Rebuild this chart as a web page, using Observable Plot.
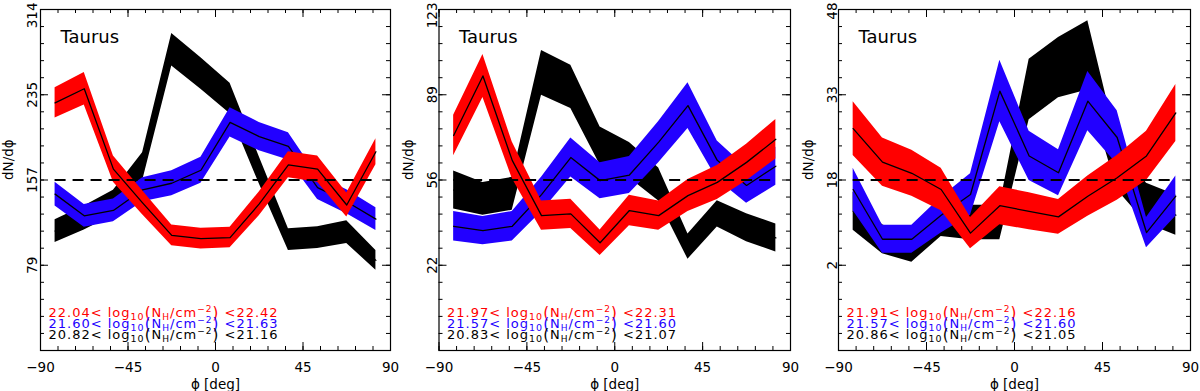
<!DOCTYPE html>
<html><head><meta charset="utf-8">
<script src="https://cdn.jsdelivr.net/npm/d3@7"></script>
<script src="https://cdn.jsdelivr.net/npm/@observablehq/plot@0.6"></script>
<style>
html,body{margin:0;padding:0;background:#fff;}
#row{display:flex;width:1200px;height:391px;overflow:hidden;}
#row svg{display:block;flex:none;}
</style></head><body><div id="row"></div>
<script>
// ---- data ----
const phi = [-82.5, -67.5, -52.5, -37.5, -22.5, -7.5, 7.5, 22.5, 37.5, 52.5, 67.5, 82.5];
const xTicks = [-90, -45, 0, 45, 90];
const xTickLabels = ["\u221290", "\u221245", "0", "45", "90"];

// panel 1
const p1YDomain = [0, 314];
const p1YTicks = [78.5, 157, 235.5, 314];
const p1YTickLabels = ["79", "157", "235", "314"];
const p1Ref = 157;
const p1Red = [228, 241, 167, 136, 106, 103, 104, 135, 171, 167, 134, 183];
const p1RedErr = [14, 15, 12, 11, 9.5, 9.5, 9.5, 11, 12, 12, 11, 12];
const p1Blue = [144, 124, 129, 148, 154, 166, 210, 197, 188, 150, 137, 121];
const p1BlueErr = [11, 10.5, 10.5, 11, 11.5, 12, 13.5, 13, 12.5, 11, 11, 10.5];
const p1Black = [110, 122, 136, 169, 277, 255, 232, 166, 102, 104, 109, 83];
const p1BlackErr = [10.5, 11, 11.5, 13, 15, 14.5, 14, 12.5, 10, 10, 10.5, 9];
const p1Lo = ["22.04", "21.60", "20.82"];
const p1Hi = ["22.42", "21.63", "21.16"];

// panel 2
const p2YDomain = [-11.5, 123];
const p2YTicks = [22.125, 55.75, 89.375, 123];
const p2YTickLabels = ["22", "56", "89", "123"];
const p2Ref = 55.75;
const p2Red = [73.3, 96.8, 63.5, 41.7, 42.4, 31.0, 43.7, 41.7, 49.6, 54.8, 62.7, 71.8];
const p2RedErr = [8, 8.5, 7.2, 5.8, 5.8, 5, 6, 5.8, 6.3, 6.7, 7.2, 7.8];
const p2Blue = [37.5, 35.8, 37.5, 50, 64.6, 55.5, 57.7, 70.7, 85.1, 63.5, 53.6, 61.2];
const p2BlueErr = [5.8, 5.6, 5.8, 6.8, 7.7, 7.1, 7.3, 8.1, 9, 7.6, 7, 7.5];
const p2Black = [51.8, 48.3, 50.3, 98, 92.5, 69.2, 63.5, 54, 29.5, 42.4, 36.9, 32.9];
const p2BlackErr = [7.5, 6.5, 6.5, 8.8, 8.5, 7.5, 7, 6.5, 5, 5.2, 5.5, 5.5];
const p2Lo = ["21.97", "21.57", "20.83"];
const p2Hi = ["22.31", "21.60", "21.07"];

// panel 3
const p3YDomain = [-13, 48];
const p3YTicks = [2.25, 17.5, 32.75, 48];
const p3YTickLabels = ["2", "18", "33", "48"];
const p3Ref = 17.5;
const p3Red = [26.7, 20.7, 18.7, 15.8, 8.0, 12.9, 11.9, 10.9, 14.6, 17.9, 21.8, 29.5];
const p3RedErr = [4.8, 4.3, 4.1, 3.8, 2.8, 3.4, 3.3, 3.1, 3.6, 4, 4.4, 5.1];
const p3Blue = [15.8, 6.9, 6.9, 11.2, 14.9, 33.4, 21.8, 18.8, 31.6, 25.1, 8.1, 14.6];
const p3BlueErr = [3.8, 2.5, 2.5, 3.2, 3.7, 5.5, 4.4, 4.1, 5.3, 4.8, 2.7, 3.6];
const p3Black = [11.9, 6.9, 5.0, 10.5, 9.9, 9.9, 33.7, 37.6, 39.8, 20, 13.3, 11.2];
const p3BlackErr = [3.4, 2.6, 2.2, 3.1, 3.1, 3.1, 5.4, 5.4, 6.2, 4.3, 3.6, 3.6];
const p3Lo = ["21.91", "21.57", "20.86"];
const p3Hi = ["22.16", "21.60", "21.05"];

const regionName = "Taurus";
const yTitle = "dN/d\u03D5";
const xTitle = "\u03D5 [deg]";
const RED = "#ff0000", BLUE = "#2200ff", BLACK = "#000000";
const legendColors = [RED, BLUE, BLACK];

// ---- drawing ----
const FONT = "DejaVu Sans";
function panel(cfg) {
  const W = 400, H = 391, mt = 9, mr = 10, mb = 41, ml = cfg.ml;
  const innerW = W - ml - mr, innerH = H - mt - mb;
  const rows = (v, e) => phi.map((x, i) => ({x, y: v[i], lo: v[i] - e[i], hi: v[i] + e[i]}));
  const step = cfg.yTicks[1] - cfg.yTicks[0];
  const yMinor = d3.range(cfg.yDomain[0], cfg.yDomain[1] + 1e-6, step / 5);
  const xMinor = d3.range(-90, 90.001, 9);
  const marks = [];
  for (const [v, e, c] of [[cfg.black, cfg.blackErr, BLACK], [cfg.blue, cfg.blueErr, BLUE], [cfg.red, cfg.redErr, RED]]) {
    const r = rows(v, e);
    marks.push(Plot.areaY(r, {x: "x", y1: "lo", y2: "hi", fill: c}));
    marks.push(Plot.lineY(r, {x: "x", y: "y", stroke: "#000", strokeWidth: 1.3}));
  }
  marks.push(Plot.ruleY([{y: cfg.ref, x1: phi[0], x2: phi[phi.length - 1]}],
    {y: "y", x1: "x1", x2: "x2", stroke: "#000", strokeWidth: 1.8, strokeDasharray: "11,7"}));
  // inward ticks on all sides
  const MAJ = 8, MIN = 4;
  marks.push(Plot.tickX(xMinor, {x: d => d, insetTop: innerH - MIN}));
  marks.push(Plot.tickX(xTicks, {x: d => d, insetTop: innerH - MAJ}));
  marks.push(Plot.tickX(xMinor, {x: d => d, insetBottom: innerH - MIN}));
  marks.push(Plot.tickX(xTicks, {x: d => d, insetBottom: innerH - MAJ}));
  marks.push(Plot.tickY(yMinor, {y: d => d, insetRight: innerW - MIN}));
  marks.push(Plot.tickY(cfg.yTicks, {y: d => d, insetRight: innerW - MAJ}));
  marks.push(Plot.tickY(yMinor, {y: d => d, insetLeft: innerW - MIN}));
  marks.push(Plot.tickY(cfg.yTicks, {y: d => d, insetLeft: innerW - MAJ}));
  marks.push(Plot.frame({stroke: "#000", strokeWidth: 1.2}));
  // tick labels
  marks.push(Plot.text(xTicks, {x: d => d, text: (d, i) => xTickLabels[i], frameAnchor: "bottom",
    dy: 17, lineAnchor: "middle", fontSize: 13.5, fill: "#000"}));
  marks.push(Plot.text(cfg.yTicks.slice(0, 3), {y: d => d, text: (d, i) => cfg.yTickLabels[i], frameAnchor: "left",
    dx: 32 - ml, rotate: -90, textAnchor: "middle", lineAnchor: "middle", fontSize: 13.5, fill: "#000"}));
  marks.push(Plot.text(cfg.yTicks.slice(3), {y: d => d, text: () => cfg.yTickLabels[3], frameAnchor: "left",
    dx: 32 - ml, dy: -7, rotate: -90, textAnchor: "end", lineAnchor: "middle", fontSize: 13.5, fill: "#000"}));
  // titles
  marks.push(Plot.text([yTitle], {text: d => d, frameAnchor: "left", dx: 8 - ml, rotate: -90,
    lineAnchor: "middle", fontSize: 13.5, fill: "#000"}));
  marks.push(Plot.text([xTitle], {text: d => d, frameAnchor: "bottom", dy: 34.5,
    lineAnchor: "middle", fontSize: 13.5, fill: "#000"}));
  marks.push(Plot.text([regionName], {text: d => d, frameAnchor: "top-left", dx: 20, dy: 27.5,
    textAnchor: "start", lineAnchor: "middle", fontSize: 18, fill: "#000"}));
  // legend
  cfg.lo.forEach((lo, i) => {
    marks.push(Plot.text([`${lo}< log10(NH/cm\u22122) <${cfg.hi[i]}`], {text: d => d, frameAnchor: "bottom-left",
      dx: 8, dy: -38 + i * 11, textAnchor: "start", lineAnchor: "middle", fontSize: 13, fill: legendColors[i]}));
  });
  const svg = Plot.plot({
    width: W, height: H, marginLeft: ml, marginRight: mr, marginTop: mt, marginBottom: mb,
    x: {domain: [-90, 90], axis: null},
    y: {domain: cfg.yDomain, axis: null},
    style: {fontFamily: FONT, background: "#fff", color: "#000", overflow: "visible"},
    marks
  });
  // rich legend text: subscripts / superscripts
  d3.select(svg).selectAll("text").each(function () {
    const t = this.textContent;
    const m = t.match(/^(.*?)log10\(NH\/cm\u22122\)(.*)$/);
    if (!m) return;
    const el = d3.select(this);
    el.text(null).attr("letter-spacing", 1);
    const add = (s, opt = {}) => {
      const ts = el.append("tspan").text(s);
      if (opt.fs) ts.attr("font-size", opt.fs);
      if (opt.bs) ts.attr("baseline-shift", opt.bs);
    };
    add(m[1]); add("log"); add("10", {fs: 9.5, bs: -3});
    add("(", {fs: 15, bs: -1}); add("N"); add("H", {fs: 9, bs: -3}); add("/cm");
    add("\u22122", {fs: 9, bs: 5}); add(")", {fs: 15, bs: -1}); add(m[2]);
  });
  return svg;
}

const row = document.getElementById("row");
row.append(panel({ml: 40, yDomain: p1YDomain, yTicks: p1YTicks, yTickLabels: p1YTickLabels, ref: p1Ref,
  red: p1Red, redErr: p1RedErr, blue: p1Blue, blueErr: p1BlueErr, black: p1Black, blackErr: p1BlackErr, lo: p1Lo, hi: p1Hi}));
row.append(panel({ml: 38.5, yDomain: p2YDomain, yTicks: p2YTicks, yTickLabels: p2YTickLabels, ref: p2Ref,
  red: p2Red, redErr: p2RedErr, blue: p2Blue, blueErr: p2BlueErr, black: p2Black, blackErr: p2BlackErr, lo: p2Lo, hi: p2Hi}));
row.append(panel({ml: 38, yDomain: p3YDomain, yTicks: p3YTicks, yTickLabels: p3YTickLabels, ref: p3Ref,
  red: p3Red, redErr: p3RedErr, blue: p3Blue, blueErr: p3BlueErr, black: p3Black, blackErr: p3BlackErr, lo: p3Lo, hi: p3Hi}));
</script></body></html>
